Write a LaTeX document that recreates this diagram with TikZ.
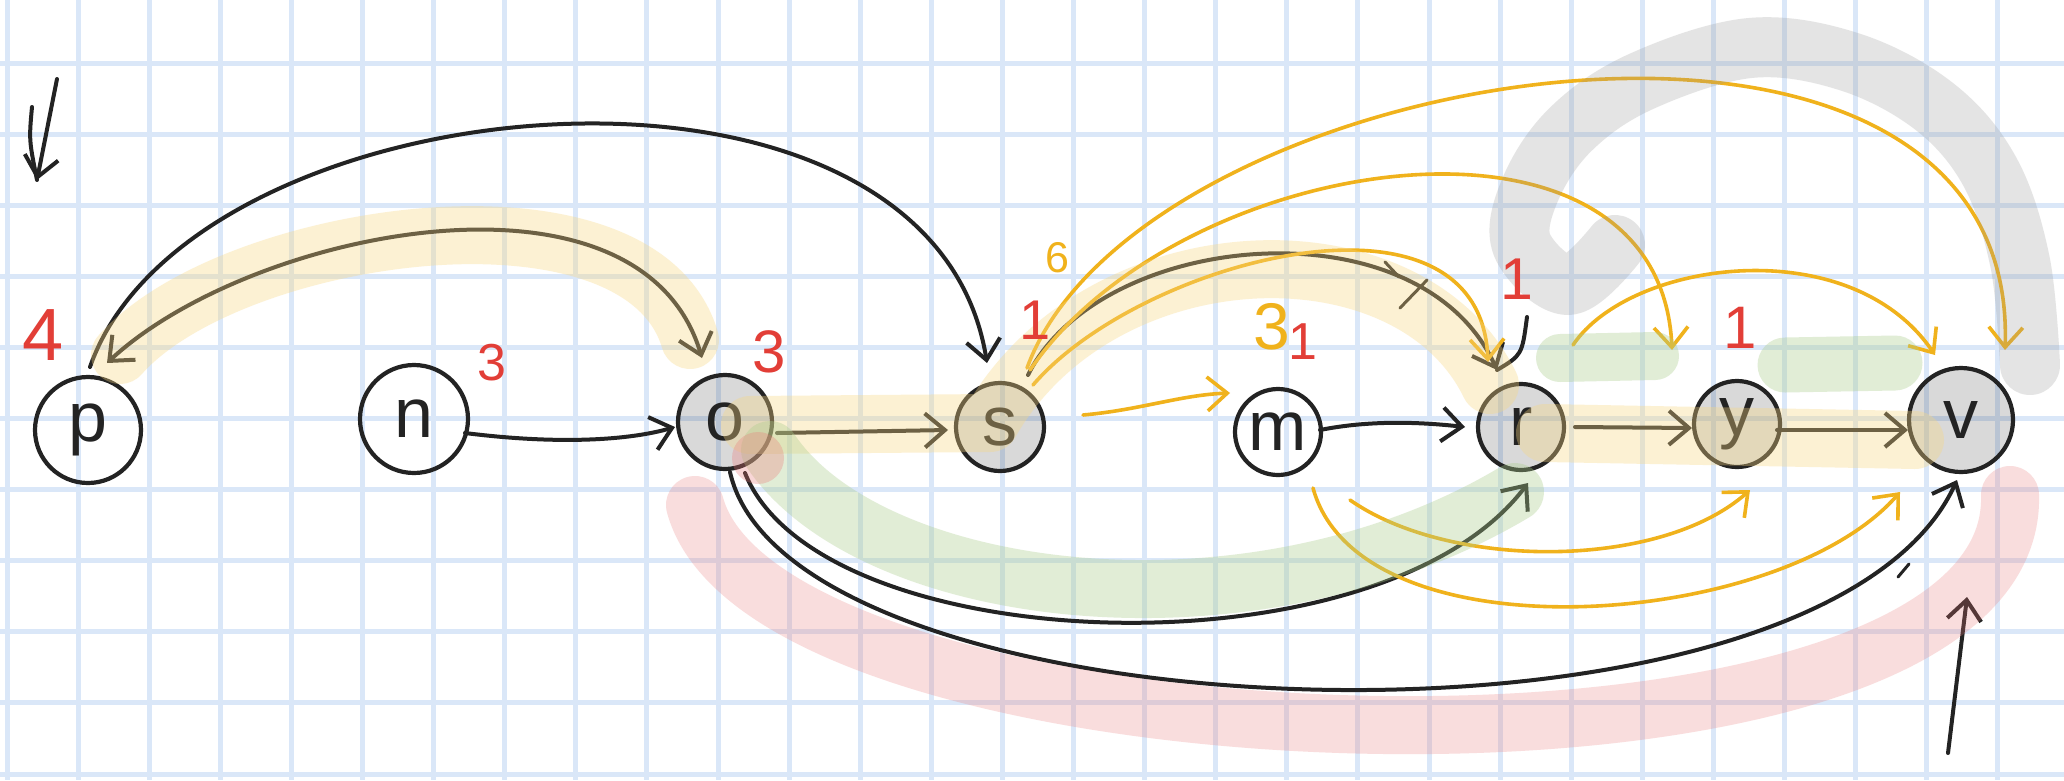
\documentclass[tikz,border=0pt]{standalone}
\usepackage{fontspec}
\setsansfont{Liberation Sans}
\usetikzlibrary{arrows.meta}
\definecolor{gridc}{RGB}{218,231,248}
\definecolor{ink}{RGB}{35,35,35}
\definecolor{redc}{RGB}{226,62,55}
\definecolor{orc}{RGB}{240,178,28}
\definecolor{hly}{RGB}{248,215,130}
\definecolor{hlg}{RGB}{170,205,140}
\definecolor{hlr}{RGB}{235,120,120}
\definecolor{hlk}{RGB}{150,150,150}
\begin{document}
\begin{tikzpicture}[x=1pt,y=-1pt,line cap=round,line join=round,
  >={Straight Barb[length=20pt,width=34pt]},
  nd/.style={circle,draw=ink,line width=4.2pt,inner sep=0pt,text=ink,
    font=\sffamily\fontsize{70}{70}\selectfont},
  gnd/.style={nd,fill=black,fill opacity=0.15,text opacity=1,draw opacity=1},
  blk/.style={draw=ink,line width=4pt},
  org/.style={draw=orc,line width=3.6pt},
  hl/.style={line width=58pt,draw opacity=0.35},
  lab/.style={font=\sffamily\fontsize{#1}{#1}\selectfont,text=redc,inner sep=0pt}]
\useasboundingbox (0,0) rectangle (2064,780);
\fill[white] (0,0) rectangle (2064,780);
% grid
\foreach \i in {0,...,29} \draw[gridc,line width=5pt,line cap=butt] ({7+71.1*\i},0) -- ({7+71.1*\i},780);
\foreach \j in {0,...,10} \draw[gridc,line width=5pt,line cap=butt] (0,{63+71.1*\j}) -- (2064,{63+71.1*\j});
% nodes
\node[nd,minimum size=106pt] (p) at (88,430) {p};
\node[nd,minimum size=108pt] (n) at (414,419) {n};
\node[gnd,minimum size=94pt] (o) at (725,422) {o};
\node[gnd,minimum size=88pt] (s) at (1000,427) {s};
\node[nd,minimum size=86pt] (m) at (1278,432) {m};
\node[gnd,minimum size=86pt] (r) at (1521,427) {r};
\node[gnd,minimum size=86pt] (y) at (1737,424) {y};
\node[gnd,minimum size=104pt] (v) at (1961,420) {v};
% black edges
\draw[blk,->] ([shift={(2,-63)}]p.center) .. controls (190,80) and (930,10) .. ([shift={(-13,-64)}]s.center);
\draw[blk,<->] ([shift={(19,-67)}]p.center) .. controls (250,230) and (640,150) .. ([shift={(-23,-64)}]o.center);
\draw[blk,->] ([shift={(51,14)}]n.center) .. controls (560,445) and (630,440) .. ([shift={(-50,5)}]o.center);
\draw[blk,->] ([shift={(52,11)}]o.center) -- ([shift={(-52,3)}]s.center);
\draw[blk,->] ([shift={(28,-52)}]s.center) .. controls (1100,230) and (1420,200) .. ([shift={(-24,-57)}]r.center);
\draw[blk] ([shift={(-24,-57)}]r.center) .. controls (1522,355) .. ([shift={(6,-110)}]r.center);
\draw[blk,line width=3pt] (1385,262) -- (1399,277);
\draw[blk,line width=3pt] (1400,308) -- (1427,280);
\draw[blk,->] ([shift={(42,-2)}]m.center) .. controls (1370,420) and (1420,422) .. ([shift={(-56,0)}]r.center);
\draw[blk,->] ([shift={(54,0)}]r.center) -- ([shift={(-45,4)}]y.center);
\draw[blk,->] ([shift={(40,6)}]y.center) -- ([shift={(-53,10)}]v.center);
\draw[blk,->] ([shift={(20,51)}]o.center) .. controls (820,660) and (1380,680) .. ([shift={(7,56)}]r.center);
\draw[blk,->] ([shift={(5,50)}]o.center) .. controls (790,740) and (1820,780) .. ([shift={(-4,60)}]v.center);
\draw[blk,line width=3pt] (1898,577) -- (1909,564);
\coordinate (fa1) at (1948,753);
\coordinate (fa2) at (1967,597);
\draw[blk,->] (fa1) -- (fa2);
\coordinate (tl1) at (57,79);
\coordinate (tl2) at (37,180);
\draw[blk,->] (tl1) -- (tl2);
\draw[blk] (32,107) .. controls (29,140) .. (tl2);
% orange edges
\draw[org,->] ([shift={(83,-12)}]s.center) .. controls (1140,410) and (1180,395) .. ([shift={(-48,-39)}]m.center);
\draw[org,->] ([shift={(33,-42)}]s.center) .. controls (1140,260) and (1480,170) .. ([shift={(-33,-65)}]r.center);
\draw[org,->] ([shift={(30,-57)}]s.center) .. controls (1180,150) and (1660,80) .. ([shift={(-65,-74)}]y.center);
\draw[org,->] ([shift={(27,-59)}]s.center) .. controls (1140,60) and (2020,-80) .. ([shift={(44,-70)}]v.center);
\draw[org,->] ([shift={(52,-82)}]r.center) .. controls (1630,260) and (1850,230) .. ([shift={(-26,-65)}]v.center);
\draw[org,->] ([shift={(72,68)}]m.center) .. controls (1450,570) and (1660,570) .. ([shift={(13,66)}]y.center);
\draw[org,->] ([shift={(35,56)}]m.center) .. controls (1360,660) and (1780,630) .. ([shift={(-61,72)}]v.center);
% highlights
\draw[hl,hly] (120,355) .. controls (230,230) and (640,170) .. (690,340);
\draw[hl,hly] (750,425) -- (990,423) .. controls (1100,230) and (1410,220) .. (1490,385);
\draw[hl,hly] (1545,433) -- (1915,440);
\draw[hl,hlg] (770,450) .. controls (870,600) and (1250,650) .. (1515,492);
\draw[hl,hlg,line width=48pt] (1560,358) -- (1655,356);
\draw[hl,hlg,line width=55pt] (1785,365) -- (1895,363);
\draw[hl,hlr,draw opacity=0.25] (695,505) .. controls (770,780) and (2020,820) .. (2010,495);
\fill[hlr,opacity=0.3] (758,458) circle (26pt);
\draw[hl,hlk,line width=60pt,draw opacity=0.25] plot[smooth,tension=0.6] coordinates {(1615,245) (1568,285) (1522,245) (1530,190) (1570,130) (1640,82) (1750,48) (1850,62) (1935,107) (1990,172) (2020,262) (2030,365)};
% labels
\node[lab=74] (lp) at (43,335) {4};
\node[lab=52] (ln) at (492,363) {3};
\node[lab=60] (lo) at (769,352) {3};
\node[lab=56] (ls) at (1035,320) {1};
\node[lab=43,text=orc] (ls2) at (1057,258) {6};
\node[lab=66,text=orc] (lm2) at (1272,327) {3};
\node[lab=52] (lm) at (1303,342) {1};
\node[lab=59] (lr) at (1517,279) {1};
\node[lab=60] (ly) at (1740,328) {1};
\end{tikzpicture}
\end{document}
